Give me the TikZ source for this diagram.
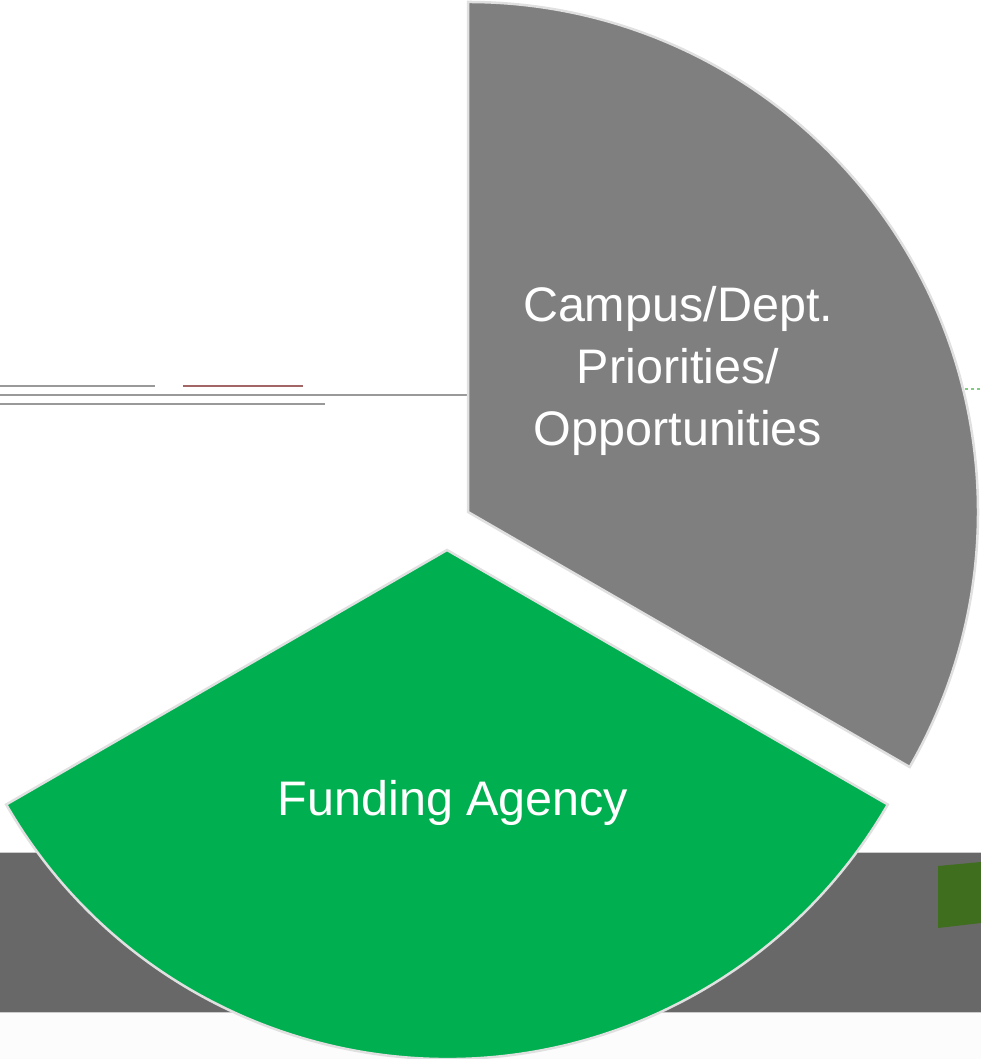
\documentclass[tikz,border=0pt]{standalone}
\usepackage{fontspec}
\setmainfont{Liberation Sans}
\definecolor{pgreen}{HTML}{00B050}
\definecolor{pgray}{HTML}{7F7F7F}
\definecolor{band}{HTML}{686868}
\definecolor{blockg}{HTML}{3F6E1F}
\begin{document}
\begin{tikzpicture}[x=1pt,y=1pt,
  sector/.style={draw=black!12,line width=2.5pt,line join=miter},
  lbl/.style={text=white,font=\fontsize{48.5}{62}\selectfont,align=center},
  stray/.style={draw=black!40,line width=2pt}]
\useasboundingbox (0,0) rectangle (981,1059);
\fill[black!1] (0,0) rectangle (981,46);
\fill[band] (0,46) rectangle (981,206);
\draw[black!20,line width=1pt] (0,206) -- (981,206) (0,46) -- (981,46);
% stray lines
\draw[stray] (0,673) -- (155,673);
\draw[stray,draw=black!60!red!60] (183,673) -- (303,673);
\draw[stray] (0,664) -- (468,664);
\draw[stray] (0,655) -- (325,655);
\draw[green!60!black!50,dashed,line width=1.5pt] (965,670) -- (981,670);
% small green block
\fill[blockg] (938,131) -- (938,193) -- (981,197) -- (981,136) -- cycle;
% sectors
\coordinate (gc) at (468,547);
\coordinate (fc) at (447,509);
\path[sector,fill=pgray] (gc) -- ++(90:510) arc[start angle=90,end angle=-30,radius=510] -- cycle;
\path[sector,fill=pgreen] (fc) -- ++(210:509) arc[start angle=210,end angle=330,radius=509] -- cycle;
\node[lbl] (campus) at (678,688) {Campus/Dept.\\Priorities/\\Opportunities};
\node[lbl] (fund) at (453,256) {Funding Agency};
\end{tikzpicture}
\end{document}
